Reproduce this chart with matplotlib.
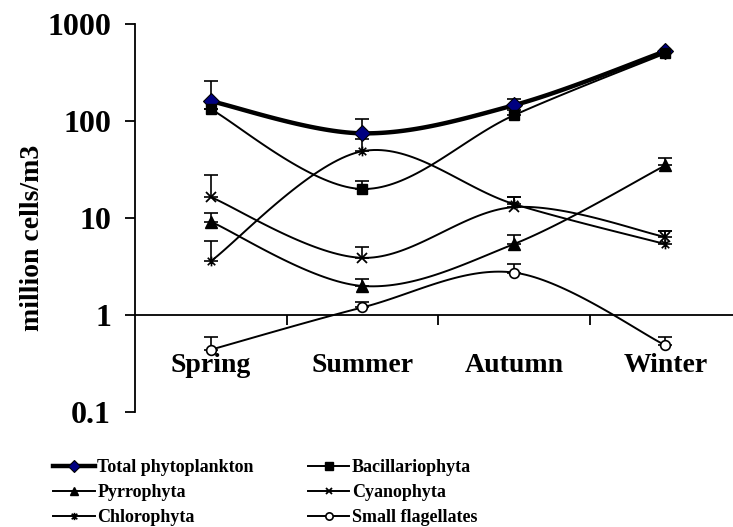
import numpy as np
import matplotlib
matplotlib.use('Agg')
import matplotlib.pyplot as plt
from matplotlib.path import Path
from matplotlib.lines import Line2D

plt.rcParams['font.family'] = ['Liberation Serif', 'DejaVu Serif']
plt.rcParams['font.weight'] = 'bold'

seasons = ['Spring', 'Summer', 'Autumn', 'Winter']

# mean values (million cells/m3) and upper error bar ends
total = [161, 75, 146, 527]
total_up = [257, 105, 169, 527]
bacill = [133, 20, 115, 500]
bacill_up = [133, 24, 130, 500]
pyrro = [9.2, 2.0, 5.4, 35]
pyrro_up = [11.2, 2.35, 6.7, 42]
cyano = [16.5, 3.9, 13, 6.4]
cyano_up = [27.7, 5.0, 16.4, 7.3]
chloro = [3.6, 49, 14, 5.4]
chloro_up = [5.8, 65, 16.4, 7.3]
flag = [0.44, 1.2, 2.75, 0.49]
flag_up = [0.6, 1.36, 3.35, 0.6]


def smooth(xs, ys, n=40):
    # Excel-like smoothed line (Catmull-Rom bezier) in x / log10(y) space
    p = np.column_stack([xs, np.log10(ys)])
    pts = []
    for i in range(len(p) - 1):
        p0 = p[i - 1] if i > 0 else p[i]
        p1 = p[i]
        p2 = p[i + 1]
        p3 = p[i + 2] if i + 2 < len(p) else p[i + 1]
        c1 = p1 + (p2 - p0) / 6
        c2 = p2 - (p3 - p1) / 6
        t = np.linspace(0, 1, n)[:, None]
        seg = ((1 - t) ** 3) * p1 + 3 * ((1 - t) ** 2) * t * c1 + 3 * (1 - t) * t ** 2 * c2 + t ** 3 * p2
        pts.append(seg if i == 0 else seg[1:])
    pts = np.vstack(pts)
    return pts[:, 0], 10 ** pts[:, 1]


asterisk = Path([(-1, -1), (1, 1), (-1, 1), (1, -1), (0, -1.3), (0, 1.3)],
                [Path.MOVETO, Path.LINETO, Path.MOVETO, Path.LINETO, Path.MOVETO, Path.LINETO])

series = [
    ('Total phytoplankton', total, total_up, dict(marker='D', markersize=8, markerfacecolor='#000080',
                                                  markeredgecolor='black', markeredgewidth=0.8), 3.2),
    ('Bacillariophyta', bacill, bacill_up, dict(marker='s', markersize=7.5, markerfacecolor='black',
                                                markeredgecolor='black'), 1.4),
    ('Pyrrophyta', pyrro, pyrro_up, dict(marker='^', markersize=8.5, markerfacecolor='black',
                                         markeredgecolor='black'), 1.4),
    ('Cyanophyta', cyano, cyano_up, dict(marker='x', markersize=6.5, markeredgecolor='black',
                                         markeredgewidth=1.3), 1.4),
    ('Chlorophyta', chloro, chloro_up, dict(marker=asterisk, markersize=7, markeredgecolor='black',
                                            markeredgewidth=1.2), 1.4),
    ('Small flagellates', flag, flag_up, dict(marker='o', markersize=7, markerfacecolor='white',
                                              markeredgecolor='black', markeredgewidth=1.2), 1.4),
]

fig = plt.figure(figsize=(7.33, 5.27), dpi=100)
ax = fig.add_axes([135 / 733, 0.218, 598 / 733, 0.736])

x = np.arange(len(seasons))
handles = {}
for name, vals, up, mk, lw in series:
    vals = np.array(vals, float)
    err = np.array(up, float) - vals
    ax.errorbar(x, vals, yerr=[np.zeros_like(err), err], fmt='none', ecolor='black',
                elinewidth=1.2, capsize=4.7, capthick=1.2, zorder=2)
    sx, sy = smooth(x, vals)
    ax.plot(sx, sy, color='black', lw=lw, zorder=3, solid_capstyle='round')
    ax.plot(x, vals, linestyle='none', zorder=4, **mk)
    handles[name] = Line2D([], [], color='black', lw=lw, **mk)

ax.set_yscale('log')
ax.set_ylim(0.1, 1000)
ax.set_xlim(-0.5, 3.447)

ax.spines['top'].set_visible(False)
ax.spines['right'].set_visible(False)
ax.spines['bottom'].set_position(('data', 1))
ax.spines['left'].set_linewidth(1.3)
ax.spines['bottom'].set_linewidth(1.3)

ax.set_yticks([0.1, 1, 10, 100, 1000])
ax.set_yticklabels(['0.1', '1', '10', '100', '1000'], fontsize=23, fontweight='bold')
ax.yaxis.set_minor_locator(matplotlib.ticker.NullLocator())
ax.tick_params(axis='y', direction='out', length=7.2, width=1.3, pad=10)

ax.set_xticks(x)
ax.set_xticklabels(seasons, fontsize=20, fontweight='bold')
ax.set_xticks([0.5, 1.5, 2.5], minor=True)
ax.tick_params(axis='x', which='major', length=0, pad=27)
ax.tick_params(axis='x', which='minor', direction='out', length=7.2, width=1.3)

fig.text(33 / 733, 1 - 238 / 527, 'million cells/m3', rotation=90, ha='center', va='center',
         fontsize=20, fontweight='bold')

order = ['Total phytoplankton', 'Pyrrophyta', 'Chlorophyta', 'Bacillariophyta', 'Cyanophyta',
         'Small flagellates']
fig.legend([handles[n] for n in order], order, ncol=2, loc='upper left',
           bbox_to_anchor=(53 / 733, 1 - 459 / 527), frameon=False,
           handlelength=2.3, handletextpad=0.15, columnspacing=3.0, labelspacing=0.45,
           markerscale=0.75, borderpad=0, borderaxespad=0, prop={'weight': 'bold', 'size': 13})

fig.savefig('out.png', dpi=100)
